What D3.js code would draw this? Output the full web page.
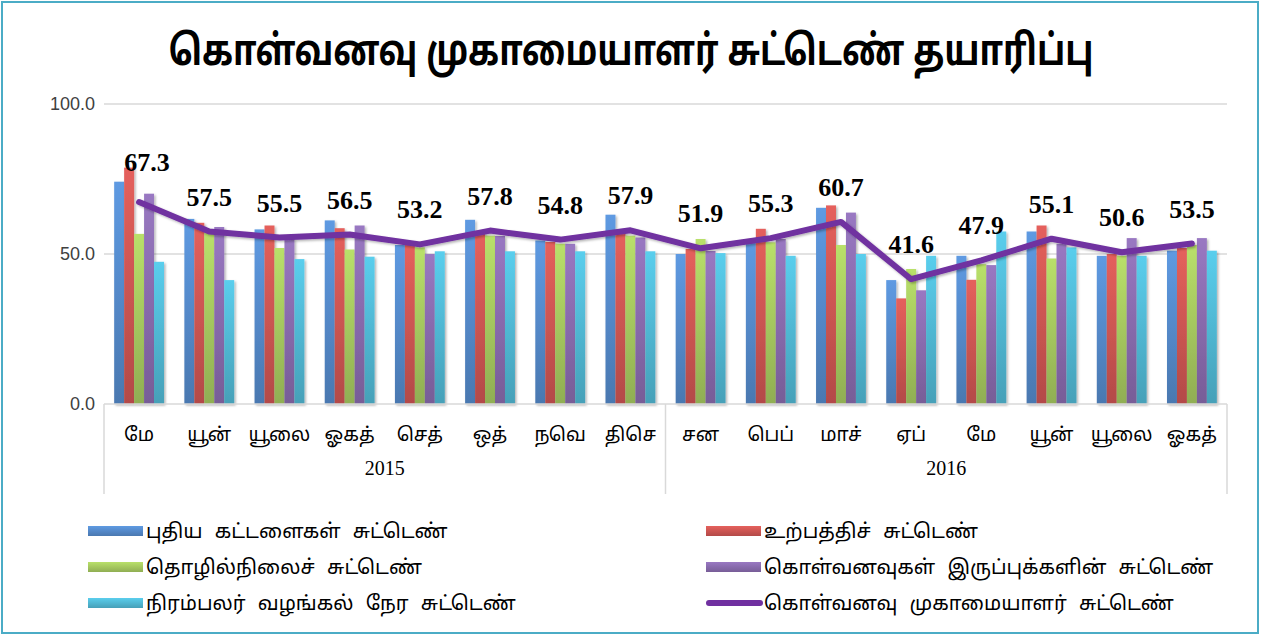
<!DOCTYPE html>
<html>
<head>
<meta charset="utf-8">
<script src="https://cdn.jsdelivr.net/npm/d3@7"></script>
<style>
  body { margin: 0; background: #fff; }
  svg { display: block; }
</style>
</head>
<body>
<div id="chart"></div>
<script>
// data
const months = ['மே', 'யூன்', 'யூலை', 'ஓகத்', 'செத்', 'ஒத்', 'நவெ', 'திசெ',
                'சன', 'பெப்', 'மாச்', 'ஏப்', 'மே', 'யூன்', 'யூலை', 'ஓகத்'];
const years = ['2015', '2016'];
const monthsPerYear = [8, 8];

const newOrders  = [74.1, 61.7, 58.2, 61.2, 53.0, 61.4, 54.5, 63.1, 50.0, 54.5, 65.4, 41.3, 49.4, 57.5, 49.4, 51.1];
const output     = [78.8, 60.4, 59.5, 58.6, 53.0, 57.0, 54.0, 57.0, 51.7, 58.4, 66.2, 35.2, 41.4, 59.5, 50.0, 52.0];
const employment = [56.7, 57.0, 52.0, 51.5, 52.2, 56.1, 53.4, 56.1, 55.0, 53.9, 53.0, 45.0, 46.6, 48.5, 49.4, 53.0];
const stocks     = [70.1, 59.0, 55.0, 59.5, 50.0, 56.0, 53.4, 55.5, 51.0, 55.0, 63.8, 37.9, 46.3, 53.4, 55.3, 55.3];
const delivery   = [47.4, 41.3, 48.3, 49.1, 50.9, 50.9, 50.9, 50.9, 50.3, 49.4, 50.0, 49.4, 57.5, 52.2, 49.4, 51.1];
const pmi        = [67.3, 57.5, 55.5, 56.5, 53.2, 57.8, 54.8, 57.9, 51.9, 55.3, 60.7, 41.6, 47.9, 55.1, 50.6, 53.5];

const yTicks = [0, 50, 100];

const seriesNames = ['புதிய கட்டளைகள் சுட்டெண்', 'உற்பத்திச் சுட்டெண்', 'தொழில்நிலைச் சுட்டெண்',
                     'கொள்வனவுகள் இருப்புக்களின் சுட்டெண்', 'நிரம்பலர் வழங்கல் நேர சுட்டெண்'];
const lineName = 'கொள்வனவு முகாமையாளர் சுட்டெண்';
const title = 'கொள்வனவு முகாமையாளர் சுட்டெண் தயாரிப்பு';

const barSeries = [newOrders, output, employment, stocks, delivery];
const colors = ['#4f81bd', '#c0504d', '#9bbb59', '#8064a2', '#4bacc6'];
const lineColor = '#7030a0';

const W = 1268, H = 636;
const tamil = '"Noto Sans Tamil", "Latha", "Lohit Tamil", "Noto Sans", sans-serif';

const svg = d3.select('#chart').append('svg')
    .attr('width', W)
    .attr('height', H);

const defs = svg.append('defs');
colors.forEach((c, i) => {
    const g = defs.append('linearGradient')
        .attr('id', 'grad' + i)
        .attr('x1', 0).attr('y1', 0).attr('x2', 0).attr('y2', 1);
    g.append('stop').attr('offset', '0%').attr('stop-color', d3.color(c).brighter(0.5));
    g.append('stop').attr('offset', '100%').attr('stop-color', d3.color(c).darker(0.2));
});
const shadow = defs.append('filter').attr('id', 'shadow')
    .attr('x', '-20%').attr('y', '-20%').attr('width', '160%').attr('height', '160%');
shadow.append('feDropShadow')
    .attr('dx', 1.5).attr('dy', 1.5).attr('stdDeviation', 1.2)
    .attr('flood-color', '#000').attr('flood-opacity', 0.3);

// outer border
svg.append('rect')
    .attr('x', 2).attr('y', 2)
    .attr('width', W - 12).attr('height', H - 5)
    .attr('fill', '#fff')
    .attr('stroke', '#4bacc6')
    .attr('stroke-width', 2);

// title, squeezed horizontally like the original
svg.append('text')
    .attr('transform', 'translate(631,65) scale(0.81,1)')
    .attr('text-anchor', 'middle')
    .style('font-family', tamil)
    .style('font-size', '42px')
    .style('font-weight', 'bold')
    .style('fill', '#000')
    .text(title);

const margin = { left: 104, right: 1227, top: 104, bottom: 404 };

const x = d3.scaleBand()
    .domain(d3.range(months.length))
    .range([margin.left, margin.right])
    .paddingInner(0.29)
    .paddingOuter(0.145);

const x1 = d3.scaleBand()
    .domain(d3.range(barSeries.length))
    .range([0, x.bandwidth()]);

const y = d3.scaleLinear()
    .domain([0, 100])
    .range([margin.bottom, margin.top]);

// grid lines
svg.append('g')
    .selectAll('line')
    .data(yTicks.filter(t => t > 0))
    .enter().append('line')
    .attr('x1', margin.left)
    .attr('x2', margin.right)
    .attr('y1', d => y(d))
    .attr('y2', d => y(d))
    .attr('stroke', '#d9d9d9')
    .attr('stroke-width', 1.5);

// y axis labels
const yAxis = d3.axisLeft(y).tickValues(yTicks).tickFormat(d3.format('.1f')).tickSize(0).tickPadding(9);
const yg = svg.append('g')
    .attr('transform', `translate(${margin.left},0)`)
    .call(yAxis);
yg.select('.domain').remove();
yg.selectAll('text')
    .style('font-family', '"Liberation Sans", Arial, sans-serif')
    .style('font-size', '18px')
    .style('fill', '#404040');

// bars
barSeries.forEach((vals, si) => {
    svg.append('g')
        .attr('filter', 'url(#shadow)')
        .selectAll('rect')
        .data(vals)
        .enter().append('rect')
        .attr('x', (d, i) => x(i) + x1(si))
        .attr('y', d => y(d))
        .attr('width', x1.bandwidth())
        .attr('height', d => y(0) - y(d))
        .attr('fill', `url(#grad${si})`);
});

// x axis line
svg.append('line')
    .attr('x1', margin.left).attr('x2', margin.right)
    .attr('y1', y(0)).attr('y2', y(0))
    .attr('stroke', '#d9d9d9')
    .attr('stroke-width', 1.5);

// month labels
svg.append('g')
    .selectAll('text')
    .data(months)
    .enter().append('text')
    .attr('x', (d, i) => x(i) + x.bandwidth() / 2)
    .attr('y', 441)
    .attr('text-anchor', 'middle')
    .style('font-family', tamil)
    .style('font-size', '19px')
    .style('fill', '#000')
    .text(d => d);

// year groups and separators
const gap = (x.step() - x.bandwidth()) / 2;
let start = 0;
const bounds = [margin.left];
years.forEach((yr, k) => {
    const n = monthsPerYear[k];
    const x0 = x(start) - gap;
    const xEnd = x(start + n - 1) + x.bandwidth() + gap;
    bounds.push(xEnd);
    svg.append('text')
        .attr('x', (x0 + xEnd) / 2)
        .attr('y', 475)
        .attr('text-anchor', 'middle')
        .style('font-family', '"Liberation Serif", "Times New Roman", serif')
        .style('font-size', '20px')
        .style('fill', '#000')
        .text(yr);
    start += n;
});
svg.append('g')
    .selectAll('line')
    .data(bounds)
    .enter().append('line')
    .attr('x1', d => d).attr('x2', d => d)
    .attr('y1', y(0)).attr('y2', 494)
    .attr('stroke', '#d9d9d9')
    .attr('stroke-width', 1.5);

// PMI line
const line = d3.line()
    .x((d, i) => x(i) + x.bandwidth() / 2)
    .y(d => y(d));

svg.append('path')
    .datum(pmi)
    .attr('d', line)
    .attr('fill', 'none')
    .attr('stroke', lineColor)
    .attr('stroke-width', 6)
    .attr('stroke-linejoin', 'round')
    .attr('stroke-linecap', 'round')
    .attr('filter', 'url(#shadow)');

// value labels (first one sits a little higher and to the right in the original)
svg.append('g')
    .selectAll('text')
    .data(pmi)
    .enter().append('text')
    .attr('x', (d, i) => x(i) + x.bandwidth() / 2 + (i === 0 ? 8 : 0))
    .attr('y', (d, i) => y(d) - (i === 0 ? 31 : 26))
    .attr('text-anchor', 'middle')
    .style('font-family', '"Liberation Serif", "Times New Roman", serif')
    .style('font-size', '26px')
    .style('font-weight', 'bold')
    .style('fill', '#000')
    .text(d => d.toFixed(1));

// legend
const legendItems = seriesNames.map((name, i) => ({ name, type: 'bar', idx: i }))
    .concat([{ name: lineName, type: 'line' }]);
const legendCols = [88, 706];
const legendRows = [531, 567, 603];

const lg = svg.append('g');
legendItems.forEach((item, i) => {
    const col = i % 2, row = Math.floor(i / 2);
    const gx = legendCols[col], gy = legendRows[row];
    if (item.type === 'bar') {
        lg.append('rect')
            .attr('x', gx).attr('y', gy - 5)
            .attr('width', 55).attr('height', 10)
            .attr('fill', `url(#grad${item.idx})`);
    } else {
        lg.append('line')
            .attr('x1', gx + 3).attr('x2', gx + 54)
            .attr('y1', gy).attr('y2', gy)
            .attr('stroke', lineColor)
            .attr('stroke-width', 6)
            .attr('stroke-linecap', 'round');
    }
    lg.append('text')
        .attr('x', gx + 58)
        .attr('y', gy + 7)
        .style('font-family', tamil)
        .style('font-size', '20px')
        .style('word-spacing', '7px')
        .style('fill', '#000')
        .text(item.name);
});
</script>
</body>
</html>
